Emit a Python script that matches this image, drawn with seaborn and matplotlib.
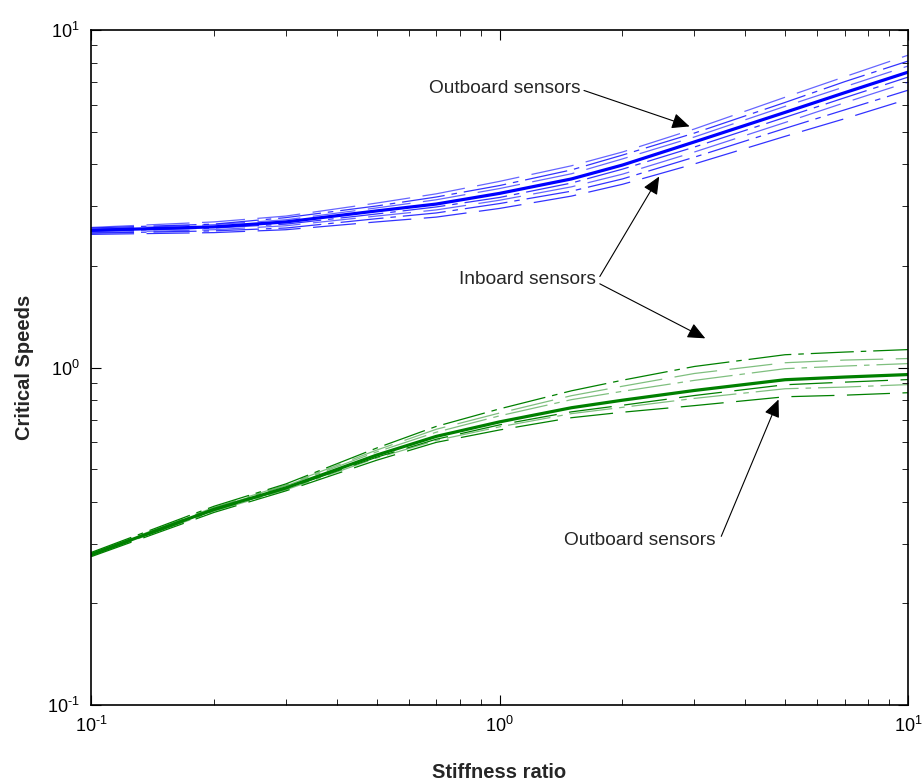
import matplotlib
matplotlib.use("Agg")
import matplotlib.pyplot as plt
from matplotlib.ticker import FuncFormatter, LogLocator
import seaborn as sns
import numpy as np
import pandas as pd

# Stiffness ratio sample points
stiffness = [0.1, 0.2, 0.3, 0.5, 0.7, 1.0, 1.5, 2.0, 3.0, 5.0, 7.0, 10.0]

# Upper mode: nominal critical speed and sensor-location variants
upper_nominal = [2.55, 2.61, 2.70, 2.91, 3.05, 3.28, 3.62, 3.98, 4.66, 5.70, 6.52, 7.50]
upper_s1 = [2.60, 2.70, 2.81, 3.07, 3.27, 3.56, 3.96, 4.35, 5.09, 6.32, 7.27, 8.42]
upper_s2 = [2.59, 2.66, 2.78, 3.01, 3.20, 3.46, 3.85, 4.26, 4.95, 6.10, 7.03, 8.09]
upper_s3 = [2.57, 2.65, 2.74, 2.97, 3.14, 3.39, 3.75, 4.15, 4.82, 5.94, 6.79, 7.82]
upper_s4 = [2.53, 2.59, 2.66, 2.85, 2.99, 3.19, 3.52, 3.87, 4.50, 5.51, 6.30, 7.25]
upper_s5 = [2.51, 2.56, 2.63, 2.81, 2.93, 3.13, 3.43, 3.74, 4.35, 5.32, 6.09, 7.00]
upper_s6 = [2.50, 2.54, 2.59, 2.76, 2.87, 3.06, 3.33, 3.62, 4.20, 5.11, 5.80, 6.63]
upper_s7 = [2.48, 2.51, 2.56, 2.70, 2.79, 2.96, 3.22, 3.49, 4.01, 4.84, 5.46, 6.24]

# Lower mode: nominal critical speed and sensor-location variants
lower_nominal = [0.279, 0.38, 0.44, 0.55, 0.625, 0.69, 0.76, 0.80, 0.855, 0.92, 0.937, 0.953]
lower_s1 = [0.283, 0.388, 0.452, 0.577, 0.669, 0.754, 0.853, 0.917, 1.007, 1.091, 1.111, 1.130]
lower_s2 = [0.281, 0.385, 0.449, 0.569, 0.656, 0.733, 0.825, 0.880, 0.960, 1.033, 1.052, 1.063]
lower_s3 = [0.281, 0.383, 0.446, 0.562, 0.643, 0.719, 0.803, 0.850, 0.916, 0.992, 1.010, 1.027]
lower_s4 = [0.277, 0.377, 0.437, 0.542, 0.613, 0.676, 0.739, 0.773, 0.826, 0.889, 0.905, 0.921]
lower_s5 = [0.277, 0.375, 0.434, 0.539, 0.608, 0.667, 0.730, 0.762, 0.810, 0.865, 0.875, 0.890]
lower_s6 = [0.275, 0.372, 0.431, 0.531, 0.600, 0.653, 0.710, 0.737, 0.771, 0.819, 0.828, 0.842]

sns.set_style("ticks")
plt.rcParams["font.family"] = ["Liberation Sans", "DejaVu Sans"]
plt.rcParams["mathtext.fontset"] = "custom"
plt.rcParams["mathtext.rm"] = "Liberation Sans"
plt.rcParams["mathtext.it"] = "Liberation Sans:italic"
plt.rcParams["mathtext.bf"] = "Liberation Sans:bold"
plt.rcParams["axes.unicode_minus"] = False
plt.rcParams["lines.scale_dashes"] = False

fig = plt.figure(figsize=(9.22, 7.83), dpi=100)
ax = fig.add_axes([91 / 922, 1 - 705 / 783, (908 - 91) / 922, (705 - 30) / 783])
ax.set_xscale("log")
ax.set_yscale("log")

dashed = (0, (31, 9))
dashdot = (0, (31, 5, 4, 5))

blue = "#0000ff"
green = "#008000"

upper_variants = [
    (upper_s1, dashed, 0.6),
    (upper_s2, dashdot, 0.8),
    (upper_s3, dashed, 0.6),
    (upper_s4, dashdot, 0.8),
    (upper_s5, dashed, 0.6),
    (upper_s6, dashdot, 0.8),
    (upper_s7, dashed, 0.8),
]
lower_variants = [
    (lower_s1, dashdot, 1.0),
    (lower_s2, dashed, 0.5),
    (lower_s3, dashdot, 0.5),
    (lower_s4, dashed, 1.0),
    (lower_s5, dashdot, 0.5),
    (lower_s6, dashed, 1.0),
]

for vals, ls, a in upper_variants:
    sns.lineplot(x=stiffness, y=vals, ax=ax, color=blue, linewidth=0.9,
                 linestyle=ls, alpha=a, legend=False)
for vals, ls, a in lower_variants:
    sns.lineplot(x=stiffness, y=vals, ax=ax, color=green, linewidth=0.9,
                 linestyle=ls, alpha=a, legend=False)

sns.lineplot(x=stiffness, y=upper_nominal, ax=ax, color=blue, linewidth=2.3, legend=False)
sns.lineplot(x=stiffness, y=lower_nominal, ax=ax, color=green, linewidth=2.3, legend=False)

ax.set_xlim(0.1, 10)
ax.set_ylim(0.1, 10)


def decade_label(v, pos):
    # power-of-ten label with a plain hyphen in the exponent
    exp = int(round(np.log10(v)))
    return r"$\mathdefault{10^{\text{%d}}}$" % exp


for axis in (ax.xaxis, ax.yaxis):
    axis.set_major_locator(LogLocator(base=10))
    axis.set_major_formatter(FuncFormatter(decade_label))

for side in ["left", "right", "top", "bottom"]:
    ax.spines[side].set_visible(True)
    ax.spines[side].set_linewidth(1.2)
    ax.spines[side].set_color("black")

ax.tick_params(which="both", direction="in", top=True, right=True,
               colors="black", labelsize=13)
ax.tick_params(which="major", length=7, width=0.8, pad=8)
ax.tick_params(which="minor", length=4, width=0.6)

ax.set_xlabel("Stiffness ratio", fontsize=14.5, fontweight="bold", va="center")
ax.set_ylabel("Critical Speeds", fontsize=14.5, fontweight="bold", va="center")
ax.xaxis.set_label_coords(0.5, (705 - 772) / 675)
ax.yaxis.set_label_coords((25 - 91) / 817, 0.5)

arrow_kw = dict(arrowstyle="-|>,head_length=0.9,head_width=0.4",
                color="black", lw=0.8, mutation_scale=12, shrinkA=0, shrinkB=0)
text_kw = dict(fontsize=13.8, ha="center", va="center")

ax.text(1.03, 6.71, "Outboard sensors", **text_kw)
ax.annotate("", xy=(2.92, 5.18), xytext=(1.61, 6.62), arrowprops=arrow_kw)

ax.text(1.17, 1.82, "Inboard sensors", **text_kw)
ax.annotate("", xy=(2.46, 3.68), xytext=(1.76, 1.86), arrowprops=arrow_kw)
ax.annotate("", xy=(3.19, 1.22), xytext=(1.76, 1.77), arrowprops=arrow_kw)

ax.text(2.21, 0.307, "Outboard sensors", **text_kw)
ax.annotate("", xy=(4.82, 0.804), xytext=(3.49, 0.316), arrowprops=arrow_kw)

fig.savefig("out.png", dpi=100)
